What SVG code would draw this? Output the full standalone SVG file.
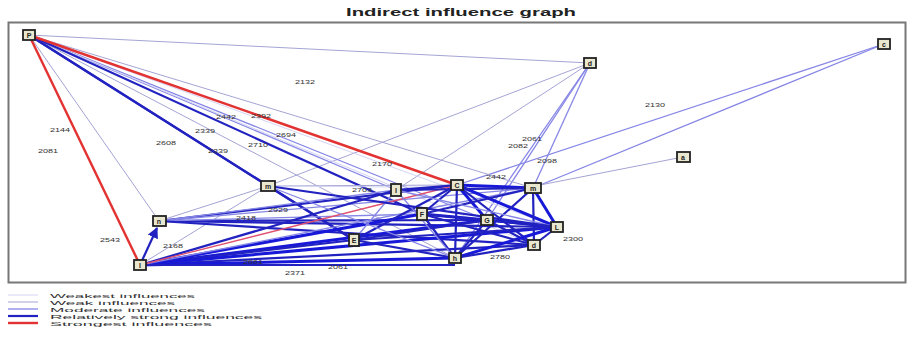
<svg xmlns="http://www.w3.org/2000/svg" width="914" height="340" viewBox="0 0 914 340">
<style>
.title{font-family:"Liberation Sans",Arial,sans-serif;font-size:10.5px;font-weight:bold;fill:#222}
.lbl{font-family:"Liberation Sans",Arial,sans-serif;font-size:6px;fill:#333}
.leg{font-family:"Liberation Sans",Arial,sans-serif;font-size:6px;fill:#333}
.nt{font-family:"Liberation Sans",Arial,sans-serif;font-size:7px;font-weight:bold;fill:#222;text-anchor:middle}
.nb{fill:#e9e8cf;stroke:#222;stroke-width:1.8}
.w0{stroke:#d4d4f4;stroke-width:1;fill:none}
.w1{stroke:#a4a4d4;stroke-width:1;fill:none}
.w2{stroke:#8686e6;stroke-width:1.3;fill:none}
.w3{stroke:#2222c0;stroke-width:2.2;fill:none}
.w3b{stroke:#1818d8;stroke-width:3;fill:none}
.w4{stroke:#e23232;stroke-width:2.4;fill:none}
.w4t{stroke:#e05070;stroke-width:1.3;fill:none}
</style>
<defs>
<marker id="ab" viewBox="0 0 10 10" refX="9" refY="5" markerWidth="5" markerHeight="5" orient="auto"><path d="M0,0 L10,5 L0,10 z" fill="#2222c0"/></marker>
</defs>
<rect x="0" y="0" width="914" height="340" fill="#fff"/>
<text class="title" x="346" y="16" textLength="230" lengthAdjust="spacingAndGlyphs">Indirect influence graph</text>
<rect x="8.5" y="22.5" width="897" height="260" fill="none" stroke="#777" stroke-width="2"/>
<g id="connectors">
<line class="w1" x1="29" y1="35" x2="590" y2="63"/>
<line class="w2" x1="884" y1="44" x2="457" y2="185"/>
<line class="w2" x1="884" y1="44" x2="533" y2="188"/>
<line class="w1" x1="683" y1="157" x2="540" y2="185"/>
<line class="w1" x1="590" y1="63" x2="396" y2="190"/>
<line class="w2" x1="590" y1="63" x2="455" y2="258"/>
<line class="w2" x1="590" y1="63" x2="533" y2="188"/>
<line class="w1" x1="590" y1="63" x2="268" y2="186"/>
<line class="w2" x1="590" y1="63" x2="487" y2="220"/>
<line class="w1" x1="29" y1="35" x2="159" y2="221"/>
<line class="w1" x1="29" y1="35" x2="533" y2="188"/>
<line class="w0" x1="29" y1="35" x2="557" y2="227"/>
<line class="w2" x1="29" y1="35" x2="487" y2="220"/>
<line class="w1" x1="29" y1="35" x2="455" y2="258"/>
<line class="w2" x1="29" y1="35" x2="396" y2="190"/>
<line class="w0" x1="29" y1="35" x2="534" y2="245"/>
<line class="w3" x1="29" y1="35" x2="268" y2="186"/>
<line class="w3" x1="29" y1="35" x2="422" y2="214"/>
<line class="w3" x1="29" y1="35" x2="354" y2="240"/>
<line class="w4" x1="29" y1="35" x2="140" y2="265"/>
<line class="w4" x1="29" y1="35" x2="457" y2="185"/>
<line class="w1" x1="268" y1="186" x2="457" y2="185"/>
<line class="w0" x1="268" y1="186" x2="533" y2="188"/>
<line class="w3" x1="268" y1="186" x2="354" y2="240"/>
<line class="w1" x1="268" y1="186" x2="140" y2="265"/>
<line class="w1" x1="268" y1="186" x2="159" y2="221"/>
<line class="w3" x1="159" y1="221" x2="457" y2="185"/>
<line class="w2" x1="159" y1="221" x2="533" y2="188"/>
<line class="w3" x1="159" y1="221" x2="487" y2="220"/>
<line class="w3" x1="159" y1="221" x2="557" y2="227"/>
<line class="w2" x1="159" y1="221" x2="396" y2="190"/>
<line class="w2" x1="159" y1="221" x2="422" y2="214"/>
<line class="w3" x1="159" y1="221" x2="534" y2="245"/>
<line class="w3" x1="140" y1="265" x2="157" y2="228" marker-end="url(#ab)"/>
<line class="w3" x1="140" y1="265" x2="396" y2="190"/>
<line class="w3b" x1="140" y1="265" x2="422" y2="214"/>
<line class="w3b" x1="140" y1="265" x2="487" y2="220"/>
<line class="w3" x1="140" y1="265" x2="354" y2="240"/>
<line class="w3b" x1="140" y1="265" x2="557" y2="227"/>
<line class="w3" x1="140" y1="265" x2="534" y2="245"/>
<line class="w3b" x1="140" y1="265" x2="455" y2="258"/>
<line class="w2" x1="140" y1="265" x2="533" y2="188"/>
<line class="w3" x1="140" y1="265" x2="455" y2="265"/>
<line class="w4t" x1="140" y1="265" x2="457" y2="185"/>
<line class="w3" x1="396" y1="190" x2="457" y2="185"/>
<line class="w3b" x1="457" y1="185" x2="533" y2="188"/>
<line class="w3" x1="457" y1="185" x2="455" y2="258"/>
<line class="w3b" x1="457" y1="185" x2="487" y2="220"/>
<line class="w3b" x1="457" y1="185" x2="557" y2="227"/>
<line class="w3" x1="457" y1="185" x2="534" y2="245"/>
<line class="w3" x1="457" y1="185" x2="354" y2="240"/>
<line class="w3" x1="457" y1="185" x2="422" y2="214"/>
<line class="w3b" x1="533" y1="188" x2="557" y2="227"/>
<line class="w3" x1="533" y1="188" x2="534" y2="245"/>
<line class="w3" x1="533" y1="188" x2="422" y2="214"/>
<line class="w3" x1="533" y1="188" x2="455" y2="258"/>
<line class="w3b" x1="487" y1="220" x2="557" y2="227"/>
<line class="w3" x1="487" y1="220" x2="534" y2="245"/>
<line class="w3" x1="487" y1="220" x2="455" y2="258"/>
<line class="w3" x1="534" y1="245" x2="557" y2="227"/>
<line class="w3b" x1="455" y1="258" x2="557" y2="227"/>
<line class="w3" x1="455" y1="258" x2="534" y2="245"/>
<line class="w3b" x1="422" y1="214" x2="487" y2="220"/>
<line class="w3" x1="422" y1="214" x2="557" y2="227"/>
<line class="w3" x1="422" y1="214" x2="534" y2="245"/>
<line class="w3" x1="422" y1="214" x2="455" y2="258"/>
<line class="w3" x1="354" y1="240" x2="455" y2="258"/>
<line class="w3" x1="354" y1="240" x2="557" y2="227"/>
<line class="w3" x1="354" y1="240" x2="487" y2="220"/>
<line class="w2" x1="396" y1="190" x2="455" y2="258"/>
<line class="w3" x1="396" y1="190" x2="533" y2="188"/>
<line class="w2" x1="396" y1="190" x2="557" y2="227"/>
<line class="w2" x1="396" y1="190" x2="354" y2="240"/>
<line class="w3" x1="268" y1="186" x2="557" y2="227"/>
<line class="w2" x1="268" y1="186" x2="455" y2="258"/>
</g>
<g id="edge-labels">
<text class="lbl" x="295" y="84" textLength="20" lengthAdjust="spacingAndGlyphs">2132</text>
<text class="lbl" x="645" y="107" textLength="20" lengthAdjust="spacingAndGlyphs">2130</text>
<text class="lbl" x="50" y="132" textLength="20" lengthAdjust="spacingAndGlyphs">2144</text>
<text class="lbl" x="38" y="153" textLength="20" lengthAdjust="spacingAndGlyphs">2081</text>
<text class="lbl" x="216" y="119" textLength="20" lengthAdjust="spacingAndGlyphs">2442</text>
<text class="lbl" x="251" y="118" textLength="20" lengthAdjust="spacingAndGlyphs">2392</text>
<text class="lbl" x="195" y="133" textLength="20" lengthAdjust="spacingAndGlyphs">2339</text>
<text class="lbl" x="276" y="137" textLength="20" lengthAdjust="spacingAndGlyphs">2694</text>
<text class="lbl" x="156" y="145" textLength="20" lengthAdjust="spacingAndGlyphs">2608</text>
<text class="lbl" x="208" y="153" textLength="20" lengthAdjust="spacingAndGlyphs">2339</text>
<text class="lbl" x="248" y="147" textLength="20" lengthAdjust="spacingAndGlyphs">2710</text>
<text class="lbl" x="372" y="166" textLength="20" lengthAdjust="spacingAndGlyphs">2170</text>
<text class="lbl" x="508" y="148" textLength="20" lengthAdjust="spacingAndGlyphs">2082</text>
<text class="lbl" x="522" y="141" textLength="20" lengthAdjust="spacingAndGlyphs">2061</text>
<text class="lbl" x="537" y="163" textLength="20" lengthAdjust="spacingAndGlyphs">2098</text>
<text class="lbl" x="486" y="179" textLength="20" lengthAdjust="spacingAndGlyphs">2442</text>
<text class="lbl" x="352" y="192" textLength="20" lengthAdjust="spacingAndGlyphs">2703</text>
<text class="lbl" x="268" y="212" textLength="20" lengthAdjust="spacingAndGlyphs">2929</text>
<text class="lbl" x="236" y="220" textLength="20" lengthAdjust="spacingAndGlyphs">2418</text>
<text class="lbl" x="100" y="242" textLength="20" lengthAdjust="spacingAndGlyphs">2543</text>
<text class="lbl" x="163" y="248" textLength="20" lengthAdjust="spacingAndGlyphs">2168</text>
<text class="lbl" x="243" y="264" textLength="20" lengthAdjust="spacingAndGlyphs">2661</text>
<text class="lbl" x="285" y="275" textLength="20" lengthAdjust="spacingAndGlyphs">2371</text>
<text class="lbl" x="328" y="269" textLength="20" lengthAdjust="spacingAndGlyphs">2061</text>
<text class="lbl" x="490" y="259" textLength="20" lengthAdjust="spacingAndGlyphs">2780</text>
<text class="lbl" x="563" y="241" textLength="20" lengthAdjust="spacingAndGlyphs">2300</text>
</g>
<g id="node-P"><rect class="nb" x="23" y="30" width="12" height="10"/><text class="nt" x="29" y="38">P</text></g>
<g id="node-d1"><rect class="nb" x="584" y="58" width="12" height="10"/><text class="nt" x="590" y="66">d</text></g>
<g id="node-c"><rect class="nb" x="878" y="39" width="12" height="10"/><text class="nt" x="884" y="47">c</text></g>
<g id="node-a"><rect class="nb" x="677" y="152" width="13" height="10"/><text class="nt" x="683" y="160">a</text></g>
<g id="node-m1"><rect class="nb" x="261" y="181" width="14" height="10"/><text class="nt" x="268" y="189">m</text></g>
<g id="node-n"><rect class="nb" x="153" y="216" width="13" height="10"/><text class="nt" x="159" y="224">n</text></g>
<g id="node-l"><rect class="nb" x="134" y="260" width="12" height="10"/><text class="nt" x="140" y="268">l</text></g>
<g id="node-I"><rect class="nb" x="391" y="184" width="10" height="12"/><text class="nt" x="396" y="193">I</text></g>
<g id="node-C"><rect class="nb" x="451" y="180" width="12" height="10"/><text class="nt" x="457" y="188">C</text></g>
<g id="node-m2"><rect class="nb" x="525" y="183" width="16" height="10"/><text class="nt" x="533" y="191">m</text></g>
<g id="node-F"><rect class="nb" x="417" y="208" width="10" height="12"/><text class="nt" x="422" y="217">F</text></g>
<g id="node-G"><rect class="nb" x="481" y="215" width="12" height="10"/><text class="nt" x="487" y="223">G</text></g>
<g id="node-E"><rect class="nb" x="349" y="234" width="10" height="12"/><text class="nt" x="354" y="243">E</text></g>
<g id="node-L"><rect class="nb" x="551" y="222" width="12" height="10"/><text class="nt" x="557" y="230">L</text></g>
<g id="node-d2"><rect class="nb" x="528" y="240" width="12" height="10"/><text class="nt" x="534" y="248">d</text></g>
<g id="node-h"><rect class="nb" x="449" y="253" width="12" height="10"/><text class="nt" x="455" y="261">h</text></g>
<g id="legend">
<line class="w0" x1="8" y1="295" x2="38" y2="295"/>
<line class="w1" x1="8" y1="302" x2="38" y2="302"/>
<line class="w2" x1="8" y1="309" x2="38" y2="309" stroke-width="2"/>
<line class="w3" x1="8" y1="316" x2="38" y2="316" stroke="#4444aa"/>
<line class="w4" x1="8" y1="323" x2="38" y2="323" stroke="#d06060" stroke-width="2"/>
<text class="leg" x="50" y="297.5" textLength="145" lengthAdjust="spacingAndGlyphs">Weakest influences</text>
<text class="leg" x="50" y="304.5" textLength="125" lengthAdjust="spacingAndGlyphs">Weak influences</text>
<text class="leg" x="50" y="311.5" textLength="155" lengthAdjust="spacingAndGlyphs">Moderate influences</text>
<text class="leg" x="50" y="318.5" textLength="212" lengthAdjust="spacingAndGlyphs">Relatively strong influences</text>
<text class="leg" x="50" y="325.5" textLength="162" lengthAdjust="spacingAndGlyphs">Strongest influences</text>
</g>
</svg>
